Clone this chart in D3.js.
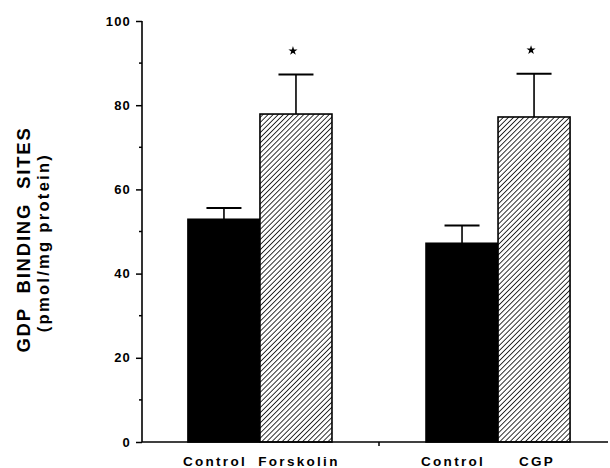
<!DOCTYPE html>
<html>
<head>
<meta charset="utf-8">
<script src="https://cdn.jsdelivr.net/npm/d3@7"></script>
<style>
  body { margin: 0; background: #fff; }
  svg { display: block; font-family: Arial, "Liberation Sans", sans-serif; }
  .tick-label { font-size: 13px; font-weight: bold; letter-spacing: 1.2px; }
  .cat-label { font-size: 13.5px; font-weight: bold; letter-spacing: 2.3px; }
</style>
</head>
<body>
<svg id="chart" width="610" height="468"></svg>
<script>
  // data
  const groups = ['Forskolin', 'CGP'];
  const series = ['Control', 'Treated'];
  const catLabels = [['Control', 'Forskolin'], ['Control', 'CGP']];
  const means = [[52.9, 77.9], [47.2, 77.2]];
  const errors = [[2.7, 9.4], [4.2, 10.3]];
  const significant = [[false, true], [false, true]];
  const yTicks = [0, 20, 40, 60, 80, 100];
  const yMinorTicks = [10, 30, 50, 70, 90];

  const width = 610, height = 468;
  const margin = {top: 21, right: -6, bottom: 26, left: 142};
  const innerwidth = width - margin.left - margin.right;
  const innerheight = height - margin.top - margin.bottom;

  const svg = d3.select('#chart');

  // hatch pattern
  const defs = svg.append('defs');
  const pat = defs.append('pattern')
      .attr('id', 'hatch')
      .attr('patternUnits', 'userSpaceOnUse')
      .attr('width', 3.6).attr('height', 3.6)
      .attr('patternTransform', 'rotate(45)');
  pat.append('rect').attr('width', 3.6).attr('height', 3.6).attr('fill', '#fff');
  pat.append('line')
      .attr('x1', 0).attr('y1', 0).attr('x2', 0).attr('y2', 3.6)
      .attr('stroke', '#111').attr('stroke-width', 1.7);

  const g = svg.append('g')
      .attr('transform', `translate(${margin.left},${margin.top})`);

  const x0 = d3.scaleBand()
      .domain(groups)
      .range([0, innerwidth])
      .paddingInner(0.395)
      .paddingOuter(0.193);

  const x1 = d3.scaleBand()
      .domain(series)
      .range([0, x0.bandwidth()]);

  const yScale = d3.scaleLinear()
      .domain([0, 100])
      .range([innerheight, 0]);

  // bars
  const groupG = g.selectAll('.group').data(groups)
    .enter().append('g')
      .attr('class', 'group')
      .attr('transform', d => `translate(${x0(d)},0)`);

  const bars = groupG.selectAll('.bar')
    .data((d, i) => series.map((s, j) => ({
      s, label: catLabels[i][j], mean: means[i][j], err: errors[i][j], sig: significant[i][j]
    })))
    .enter().append('g')
      .attr('class', 'bar');

  // error bars (drawn first so the bar edge sits on top)
  bars.append('line')
      .attr('x1', d => x1(d.s) + x1.bandwidth() / 2)
      .attr('x2', d => x1(d.s) + x1.bandwidth() / 2)
      .attr('y1', d => yScale(d.mean))
      .attr('y2', d => yScale(d.mean + d.err))
      .attr('stroke', '#000').attr('stroke-width', 1.6);
  bars.append('line')
      .attr('x1', d => x1(d.s) + x1.bandwidth() / 2 - 17.5)
      .attr('x2', d => x1(d.s) + x1.bandwidth() / 2 + 17.5)
      .attr('y1', d => yScale(d.mean + d.err))
      .attr('y2', d => yScale(d.mean + d.err))
      .attr('stroke', '#000').attr('stroke-width', 2);

  bars.append('rect')
      .attr('x', d => x1(d.s))
      .attr('width', x1.bandwidth())
      .attr('y', d => yScale(d.mean))
      .attr('height', d => innerheight - yScale(d.mean))
      .attr('fill', d => d.s === 'Control' ? '#000' : 'url(#hatch)')
      .attr('stroke', '#000').attr('stroke-width', 1.6);

  // asterisks
  bars.filter(d => d.sig).append('path')
      .attr('d', d3.symbol(d3.symbolStar, 26))
      .attr('transform', d =>
        `translate(${x1(d.s) + x1.bandwidth() / 2 - 3},${yScale(d.mean + d.err + 5.6)})`)
      .attr('fill', '#000');

  // category labels
  bars.append('text')
      .attr('class', 'cat-label')
      .attr('x', (d, j) => x1(d.s) + x1.bandwidth() / 2 + (j === 0 ? -9 : 3))
      .attr('y', innerheight + 24)
      .attr('text-anchor', 'middle')
      .text(d => d.label);

  // y axis
  const yAxis = d3.axisLeft(yScale)
      .tickValues(yTicks)
      .tickSize(6)
      .tickPadding(5);
  const yAxisG = g.append('g').attr('class', 'y-axis').call(yAxis);
  yAxisG.select('.domain').attr('stroke-width', 1.6).attr('d', `M0,${innerheight}V0`);
  yAxisG.selectAll('.tick line').attr('stroke-width', 1.5);
  yAxisG.selectAll('.tick text').attr('class', 'tick-label').attr('font-family', null).attr('font-size', null);

  g.append('g').selectAll('line').data(yMinorTicks)
    .enter().append('line')
      .attr('x1', -3).attr('x2', 0)
      .attr('y1', d => yScale(d)).attr('y2', d => yScale(d))
      .attr('stroke', '#000').attr('stroke-width', 1.5);

  // x axis baseline with group separator tick
  g.append('line')
      .attr('x1', 0).attr('x2', innerwidth - 8)
      .attr('y1', innerheight).attr('y2', innerheight)
      .attr('stroke', '#000').attr('stroke-width', 1.6);
  g.append('line')
      .attr('x1', x0(groups[1]) - x0.step() * x0.paddingInner() / 2)
      .attr('x2', x0(groups[1]) - x0.step() * x0.paddingInner() / 2)
      .attr('y1', innerheight).attr('y2', innerheight + 4)
      .attr('stroke', '#000').attr('stroke-width', 1.5);

  // y axis title
  const title = svg.append('text')
      .attr('transform', `translate(30,${margin.top + innerheight / 2 + 8}) rotate(-90)`)
      .attr('text-anchor', 'middle')
      .attr('font-weight', 'bold');
  title.append('tspan')
      .attr('x', 0).attr('dy', 0)
      .attr('font-size', 18.5).attr('letter-spacing', 1.8).attr('word-spacing', 7)
      .text('GDP BINDING SITES');
  title.append('tspan')
      .attr('x', -3).attr('dy', 19)
      .attr('font-size', 16.5).attr('letter-spacing', 2.3)
      .text('(pmol/mg protein)');
</script>
</body>
</html>
